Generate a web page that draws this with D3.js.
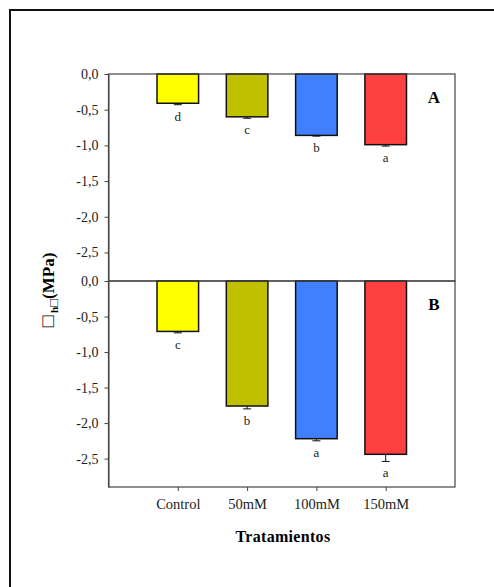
<!DOCTYPE html>
<html>
<head>
<meta charset="utf-8">
<script src="https://cdn.jsdelivr.net/npm/d3@7"></script>
<style>
  body { margin: 0; background: #fff; }
  text { font-family: "Liberation Serif", "Times New Roman", serif; }
</style>
</head>
<body>
<svg id="chart" width="494" height="587"></svg>
<script>
const categories = ['Control', '50mM', '100mM', '150mM'];
const colors = ['#ffff00', '#c0c000', '#4080ff', '#ff4040'];

const valuesA = [-0.41, -0.60, -0.86, -0.99];
const errorsA = [0.02, 0.02, 0.01, 0.02];
const lettersA = ['d', 'c', 'b', 'a'];

const valuesB = [-0.71, -1.76, -2.22, -2.44];
const errorsB = [0.02, 0.04, 0.03, 0.10];
const lettersB = ['c', 'b', 'a', 'a'];

const yTicks = [0, -0.5, -1.0, -1.5, -2.0, -2.5];

const svg = d3.select('#chart');

// outer frame (runs off the right and bottom edges)
svg.append('rect')
  .attr('x', 10).attr('y', 10)
  .attr('width', 520).attr('height', 620)
  .attr('fill', 'none').attr('stroke', '#111').attr('stroke-width', 2);

const left = 108.5, right = 455;
const x = d3.scaleLinear().domain([0, categories.length + 1]).range([left, right]);
const barW = (x(1) - x(0)) * 0.6;
const fmt = d => d3.format('.1f')(d).replace('.', ',').replace('−', '-');

function panel(top, bottom, values, errors, letters, tag, showX) {
  const y = d3.scaleLinear().domain([-2.9, 0]).range([bottom, top]);
  const g = svg.append('g');

  const rows = values.map((v, i) => ({ cat: categories[i], v, e: errors[i], l: letters[i], c: colors[i], i }));

  g.selectAll('.bar')
    .data(rows)
    .enter()
    .append('rect')
    .attr('x', d => x(d.i + 1) - barW / 2)
    .attr('y', y(0))
    .attr('width', barW)
    .attr('height', d => y(d.v) - y(0))
    .attr('fill', d => d.c)
    .attr('stroke', '#111')
    .attr('stroke-width', 1.5);

  // error bars (downward only)
  g.selectAll('.err')
    .data(rows)
    .enter()
    .append('line')
    .attr('x1', d => x(d.i + 1)).attr('x2', d => x(d.i + 1))
    .attr('y1', d => y(d.v)).attr('y2', d => y(d.v - d.e))
    .attr('stroke', '#111');

  g.selectAll('.cap')
    .data(rows)
    .enter()
    .append('line')
    .attr('x1', d => x(d.i + 1) - 4).attr('x2', d => x(d.i + 1) + 4)
    .attr('y1', d => y(d.v - d.e)).attr('y2', d => y(d.v - d.e))
    .attr('stroke', '#111');

  g.selectAll('.letter')
    .data(rows)
    .enter()
    .append('text')
    .attr('x', d => x(d.i + 1))
    .attr('y', d => y(d.v - d.e) + 16)
    .attr('text-anchor', 'middle')
    .attr('font-size', 13)
    .attr('fill', '#222')
    .text(d => d.l);

  // panel box
  g.append('rect')
    .attr('x', left).attr('y', top)
    .attr('width', right - left).attr('height', bottom - top)
    .attr('fill', 'none').attr('stroke', '#444').attr('stroke-width', 1.2);

  const yAxis = g.append('g')
    .attr('transform', `translate(${left},0)`)
    .call(d3.axisLeft(y).tickValues(yTicks).tickFormat(fmt).tickSize(4).tickSizeOuter(0).tickPadding(6));
  yAxis.select('.domain').attr('stroke', '#444');
  yAxis.selectAll('line').attr('stroke', '#444');
  yAxis.selectAll('text').attr('font-size', 14).attr('fill', '#222');

  g.append('text')
    .attr('x', 434).attr('y', top + 29)
    .attr('text-anchor', 'middle')
    .attr('font-size', 17).attr('font-weight', 'bold')
    .text(tag);

  if (showX) {
    const xAxis = g.append('g')
      .attr('transform', `translate(0,${bottom})`)
      .call(d3.axisBottom(x).tickValues(categories.map((c, i) => i + 1))
        .tickFormat(d => categories[d - 1]).tickSize(4).tickSizeOuter(0).tickPadding(8));
    xAxis.select('.domain').remove();
    xAxis.selectAll('line').attr('stroke', '#444');
    xAxis.selectAll('text').attr('font-size', 14.5).attr('fill', '#222');
  }
}

panel(74, 281, valuesA, errorsA, lettersA, 'A', false);
panel(281, 487, valuesB, errorsB, lettersB, 'B', true);

// axis titles
svg.append('text')
  .attr('transform', 'translate(54,290) rotate(-90)')
  .attr('text-anchor', 'middle')
  .attr('font-size', 17).attr('font-weight', 'bold')
  .html('<tspan font-weight="normal" font-size="19">□</tspan><tspan dx="3" dy="4" font-size="11">h</tspan><tspan font-weight="normal" font-size="13">□</tspan><tspan dy="-4">(MPa)</tspan>');

svg.append('text')
  .attr('x', 283).attr('y', 542)
  .attr('text-anchor', 'middle')
  .attr('font-size', 16).attr('font-weight', 'bold')
  .attr('letter-spacing', 0.3)
  .text('Tratamientos');
</script>
</body>
</html>
